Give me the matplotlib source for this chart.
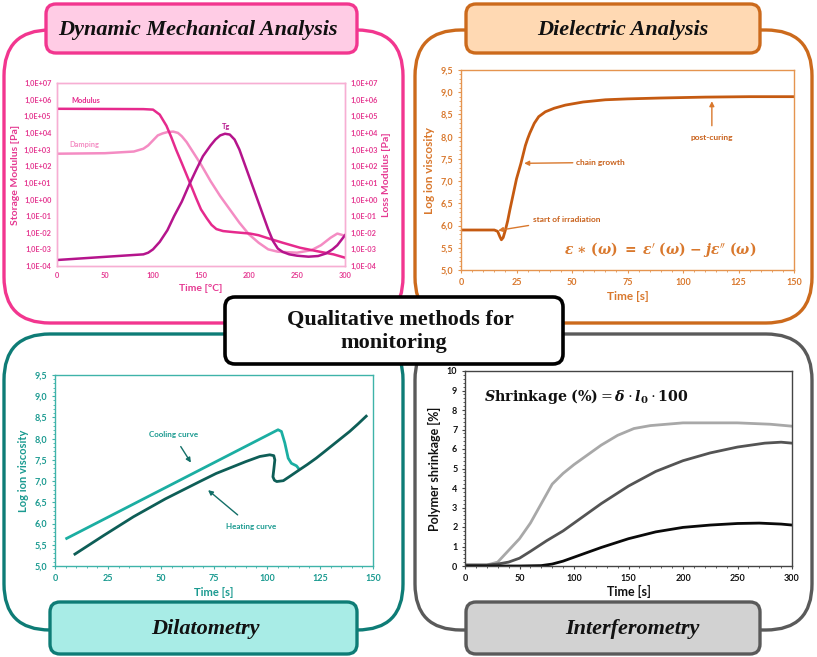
import matplotlib
matplotlib.use('Agg')
import math
import matplotlib.pyplot as plt
from matplotlib.patches import FancyBboxPatch
from matplotlib.ticker import MultipleLocator, FixedLocator, FuncFormatter, NullLocator

# ---------------- data ----------------
# Dynamic Mechanical Analysis (log10 of values)
dma_mod_x = [0, 50, 90, 100, 107, 114, 119, 124, 130, 135, 140, 145, 150, 156, 161, 166, 173, 185,
             201, 210, 218, 235, 253, 270, 288, 300]
dma_mod_log = [5.45, 5.44, 5.43, 5.40, 5.1, 4.43, 3.75, 3.0, 2.18, 1.48, 0.78, 0.07, -0.6, -1.13, -1.53,
               -1.78, -1.9, -1.97, -2.05, -2.15, -2.3, -2.6, -2.9, -3.1, -3.3, -3.5]
dma_damp_x = [0, 50, 80, 90, 95, 100, 105, 110, 115, 121, 126, 130, 135, 140, 150, 160, 170, 180, 190,
              200, 210, 220, 230, 250, 265, 275, 285, 292, 298, 300]
dma_damp_log = [2.75, 2.78, 2.88, 3.05, 3.25, 3.55, 3.85, 3.97, 4.05, 4.08, 4.0, 3.8, 3.45, 3.0, 2.1, 1.1,
                0.2, -0.6, -1.4, -2.1, -2.6, -3.0, -3.14, -3.2, -3.05, -2.75, -2.3, -2.05, -2.15, -2.2]
dma_tg_x = [0, 50, 90, 95, 100, 107, 115, 122, 130, 137, 145, 152, 160, 165, 170, 175, 180, 185, 190, 195,
            200, 205, 210, 215, 220, 225, 230, 235, 242, 250, 262, 272, 280, 287, 292, 296, 300]
dma_tg_log = [-3.64, -3.45, -3.3, -3.2, -3.0, -2.55, -1.85, -1.0, -0.13, 0.8, 1.78, 2.6, 3.25, 3.6, 3.85,
              3.95, 3.9, 3.6, 3.0, 2.2, 1.4, 0.6, -0.2, -1.0, -1.8, -2.5, -2.95, -3.15, -3.3, -3.38,
              -3.44, -3.4, -3.25, -3.0, -2.75, -2.45, -2.15]
dma_exp_ticks = [-4, -3, -2, -1, 0, 1, 2, 3, 4, 5, 6, 7]

# Dielectric Analysis
dea_t = [0, 5, 10, 15, 16.5, 17.5, 18.2, 19, 20, 21, 22, 23.5, 25, 27, 29, 30, 31, 33, 35, 38, 42, 47,
         55, 65, 75, 90, 110, 130, 150]
dea_v = [5.9, 5.9, 5.9, 5.9, 5.87, 5.75, 5.68, 5.73, 5.9, 6.1, 6.35, 6.7, 7.05, 7.4, 7.8, 7.95, 8.08,
         8.3, 8.45, 8.56, 8.64, 8.71, 8.78, 8.83, 8.85, 8.87, 8.89, 8.9, 8.9]

# Dilatometry
dil_cool_t = [5.5, 105.2, 106.8, 108.4, 110, 111.5, 113.9, 114.7]
dil_cool_v = [5.65, 8.21, 8.17, 7.9, 7.54, 7.42, 7.36, 7.31]
dil_heat_t = [9.4, 23, 37, 52, 68.3, 76, 84, 90, 96.6, 101.3, 103.2, 103.7, 103.2, 102.8, 103.5, 104.6,
              107.7, 111, 115.4, 119, 123.2, 127, 131, 135, 139, 143, 146.8]
dil_heat_v = [5.28, 5.72, 6.16, 6.58, 6.99, 7.18, 7.34, 7.46, 7.58, 7.62, 7.6, 7.5, 7.27, 7.1, 7.02, 6.99,
              7.01, 7.12, 7.27, 7.39, 7.54, 7.69, 7.85, 8.01, 8.17, 8.35, 8.53]

# Interferometry
int_t = [0, 20, 30, 40, 50, 60, 70, 80, 90, 100, 110, 125, 140, 155, 170, 200, 250, 280, 300]
int_light = [0.05, 0.05, 0.2, 0.8, 1.4, 2.2, 3.2, 4.2, 4.75, 5.2, 5.6, 6.2, 6.7, 7.05, 7.2, 7.34, 7.34,
             7.27, 7.17]
int_t2 = [0, 20, 30, 40, 50, 60, 75, 90, 100, 125, 150, 175, 200, 225, 250, 275, 290, 300]
int_mid = [0.05, 0.05, 0.1, 0.2, 0.4, 0.75, 1.3, 1.8, 2.2, 3.2, 4.1, 4.85, 5.4, 5.8, 6.1, 6.3, 6.35, 6.3]
int_t3 = [0, 50, 70, 80, 90, 100, 125, 150, 175, 200, 225, 250, 270, 290, 300]
int_dark = [0.0, 0.0, 0.02, 0.1, 0.25, 0.45, 0.95, 1.4, 1.75, 1.98, 2.1, 2.18, 2.2, 2.15, 2.1]

# ---------------- figure ----------------
W, H = 817, 657
fig = plt.figure(figsize=(W / 100, H / 100), dpi=100)
bg = fig.add_axes([0, 0, 1, 1])
bg.set_xlim(0, W)
bg.set_ylim(H, 0)
bg.axis('off')

SANS = ['Lato', 'DejaVu Sans']
SERIF = ['Liberation Serif', 'DejaVu Serif']


def px_axes(l, t, r, b):
    a = fig.add_axes([l / W, 1 - b / H, (r - l) / W, (b - t) / H])
    a.set_facecolor('none')
    return a


def frame(x0, y0, x1, y1, color, r=46, lw=2.4):
    bg.add_patch(FancyBboxPatch((x0, y0), x1 - x0, y1 - y0,
                                boxstyle=f"round,pad=0,rounding_size={r}",
                                fc='none', ec=color, lw=lw, zorder=1))


def title_box(x0, y0, x1, y1, fc, ec, text, tx, size):
    bg.add_patch(FancyBboxPatch((x0, y0), x1 - x0, y1 - y0,
                                boxstyle="round,pad=0,rounding_size=10",
                                fc=fc, ec=ec, lw=2.4, zorder=2))
    bg.text(tx, (y0 + y1) / 2 + 1, text, ha='center', va='center', family=SERIF,
            style='italic', weight='bold', fontsize=size, color='#111111', zorder=3)


# frames
frame(4, 30, 403, 323, '#F2368F')
frame(415, 30, 812, 323, '#CC6A1C')
frame(4, 334, 403, 630, '#0E7C76')
frame(415, 334, 812, 630, '#5A5A5A')

title_box(46, 4, 357, 53, '#FFCCE5', '#F2368F', 'Dynamic Mechanical Analysis', 198, 16)
title_box(466, 4, 760, 53, '#FFD9B3', '#CC6A1C', 'Dielectric Analysis', 623, 16)
title_box(50, 602, 357, 654, '#A8ECE6', '#0E7C76', 'Dilatometry', 205, 16)
title_box(466, 602, 760, 654, '#D2D2D2', '#5A5A5A', 'Interferometry', 632, 16)

# center box
bg.add_patch(FancyBboxPatch((225, 297), 338, 67, boxstyle="round,pad=0,rounding_size=10",
                            fc='white', ec='black', lw=2.6, zorder=4))
bg.text(400, 320, 'Qualitative methods for', ha='center', va='center', family=SERIF,
        weight='bold', fontsize=16, color='#111111', zorder=5)
bg.text(394, 343, 'monitoring', ha='center', va='center', family=SERIF,
        weight='bold', fontsize=16, color='#111111', zorder=5)


def style_ax(a, col, spine_col, tsize=6.5):
    for s in a.spines.values():
        s.set_color(spine_col)
        s.set_linewidth(1.0)
    a.tick_params(axis='both', which='both', colors=spine_col, labelcolor=col, labelsize=tsize)
    for lab in a.get_xticklabels() + a.get_yticklabels():
        lab.set_fontfamily(SANS)
        lab.set_fontweight('bold')


def fmt_comma(v, p):
    return f"{v:.1f}".replace('.', ',')


# ---------------- DMA ----------------
pink_txt = '#E53A92'
ax = px_axes(57, 83, 345, 266)
ax.set_yscale('log')
ax.set_xlim(0, 300)
ax.set_ylim(1e-4, 1e7)
ax.plot(dma_mod_x, [10 ** v for v in dma_mod_log], color='#E62A8D', lw=1.8, zorder=3)
ax.plot(dma_damp_x, [10 ** v for v in dma_damp_log], color='#F48CC3', lw=1.8, zorder=2)
ax2 = ax.twinx()
ax2.set_yscale('log')
ax2.set_ylim(1e-4, 1e7)
ax2.plot(dma_tg_x, [10 ** v for v in dma_tg_log], color='#B5148C', lw=1.8)
fmt = FuncFormatter(lambda v, p: "1,0E%+03d" % round(math.log10(v)))
for a in (ax, ax2):
    a.yaxis.set_major_locator(FixedLocator([10 ** k for k in dma_exp_ticks]))
    a.yaxis.set_minor_locator(NullLocator())
    a.yaxis.set_major_formatter(fmt)
ax.xaxis.set_major_locator(MultipleLocator(50))
style_ax(ax, pink_txt, '#F7AED3', 5.3)
style_ax(ax2, pink_txt, '#F7AED3', 5.3)
ax.tick_params(length=0, pad=4)
ax2.tick_params(length=0, pad=4)
ax.set_xlabel('Time [°C]', family=SANS, weight='bold', fontsize=7.5, color=pink_txt, labelpad=4)
ax.set_ylabel('Storage Modulus [Pa]', family=SANS, weight='bold', fontsize=7.5, color=pink_txt, labelpad=3)
ax2.set_ylabel('Loss Modulus [Pa]', family=SANS, weight='bold', fontsize=7.5, color=pink_txt, labelpad=3)
ax.text(15, 10 ** 5.96, 'Modulus', family=SANS, weight='bold', fontsize=5.3, color='#E62A8D', va='center')
ax.text(13, 10 ** 3.3, 'Damping', family=SANS, weight='bold', fontsize=5.3, color='#F48CC3', va='center')
ax2.text(176, 10 ** 4.4, 'Tg', family=SANS, weight='bold', fontsize=5.3, color='#B5148C', va='center', ha='center')

# ---------------- Dielectric ----------------
orange = '#C8601A'
orange_t = '#D9782D'
bx = px_axes(461, 70, 794, 270)
bx.set_xlim(0, 150)
bx.set_ylim(5.0, 9.5)
bx.plot(dea_t, dea_v, color='#C55A11', lw=2.0)
bx.xaxis.set_major_locator(MultipleLocator(25))
bx.xaxis.set_minor_locator(MultipleLocator(5))
bx.yaxis.set_major_locator(MultipleLocator(0.5))
bx.yaxis.set_minor_locator(MultipleLocator(0.1))
bx.yaxis.set_major_formatter(FuncFormatter(fmt_comma))
style_ax(bx, orange_t, '#E5944F', 6.5)
bx.tick_params(which='major', length=2.5, direction='out', pad=3)
bx.tick_params(which='minor', length=1.5, direction='out')
bx.set_xlabel('Time [s]', family=SANS, weight='bold', fontsize=8.5, color=orange_t, labelpad=3)
bx.set_ylabel('Log ion viscosity', family=SANS, weight='bold', fontsize=8.5, color=orange_t, labelpad=4)
akw = dict(arrowstyle='-|>', color='#D9782D', lw=1.0, mutation_scale=7)
bx.annotate('post-curing', xy=(113, 8.86), xytext=(113, 7.98), ha='center', va='center',
            family=SANS, weight='bold', fontsize=6, color=orange,
            arrowprops=dict(akw, shrinkA=4))
bx.annotate('chain growth', xy=(27.2, 7.4), xytext=(51.6, 7.42), ha='left', va='center',
            family=SANS, weight='bold', fontsize=6, color=orange,
            arrowprops=dict(akw, shrinkA=0))
bx.annotate('start of irradiation', xy=(15.5, 5.88), xytext=(32.3, 6.14), ha='left', va='center',
            family=SANS, weight='bold', fontsize=6, color=orange,
            arrowprops=dict(akw, shrinkA=1))
bx.text(89.7, 5.47,
        r'$\mathbfit{\varepsilon}\ \mathbf{\ast}\ \mathbf{(}\mathbfit{\omega}\mathbf{)}\ \mathbf{=}\ '
        r'\mathbfit{\varepsilon}^{\prime}\ \mathbf{(}\mathbfit{\omega}\mathbf{)}\ \mathbf{-}\ '
        r'\mathbfit{j\varepsilon}^{\prime\prime}\ \mathbf{(}\mathbfit{\omega}\mathbf{)}$',
        ha='center', va='center', math_fontfamily='dejavuserif', fontsize=10, color='#D9782D')

# ---------------- Dilatometry ----------------
teal_t = '#1A9A90'
cx = px_axes(55, 375, 373, 566)
cx.set_xlim(0, 150)
cx.set_ylim(5.0, 9.5)
cx.plot(dil_cool_t, dil_cool_v, color='#1BAEA2', lw=2.0)
cx.plot(dil_heat_t, dil_heat_v, color='#0E5E57', lw=2.0)
cx.xaxis.set_major_locator(MultipleLocator(25))
cx.xaxis.set_minor_locator(MultipleLocator(5))
cx.yaxis.set_major_locator(MultipleLocator(0.5))
cx.yaxis.set_minor_locator(MultipleLocator(0.1))
cx.yaxis.set_major_formatter(FuncFormatter(fmt_comma))
style_ax(cx, teal_t, '#3FB3A9', 6.5)
cx.tick_params(which='major', length=2.5, direction='out', pad=3)
cx.tick_params(which='minor', length=1.5, direction='out')
cx.set_xlabel('Time [s]', family=SANS, weight='bold', fontsize=8, color=teal_t, labelpad=3)
cx.set_ylabel('Log ion viscosity', family=SANS, weight='bold', fontsize=8, color=teal_t, labelpad=4)
tkw = dict(arrowstyle='-|>', color='#136F68', lw=1.0, mutation_scale=7)
cx.annotate('Cooling curve', xy=(64.8, 7.38), xytext=(55.7, 8.1), ha='center', va='center',
            family=SANS, weight='bold', fontsize=5.8, color=teal_t,
            arrowprops=dict(tkw, shrinkA=5))
cx.annotate('Heating curve', xy=(71.2, 6.83), xytext=(92.7, 5.93), ha='center', va='center',
            family=SANS, weight='bold', fontsize=5.8, color=teal_t,
            arrowprops=dict(tkw, shrinkA=6))

# ---------------- Interferometry ----------------
dx = px_axes(465, 371, 792, 566)
dx.set_xlim(0, 300)
dx.set_ylim(0, 10)
dx.plot(int_t, int_light, color='#A8A8A8', lw=2.0)
dx.plot(int_t2, int_mid, color='#545454', lw=2.0)
dx.plot(int_t3, int_dark, color='#0A0A0A', lw=2.0)
dx.xaxis.set_major_locator(MultipleLocator(50))
dx.xaxis.set_minor_locator(MultipleLocator(10))
dx.yaxis.set_major_locator(MultipleLocator(1))
dx.yaxis.set_minor_locator(MultipleLocator(0.2))
style_ax(dx, '#111111', '#444444', 6.5)
dx.tick_params(which='major', length=2.5, direction='out', pad=3)
dx.tick_params(which='minor', length=1.5, direction='out')
dx.set_xlabel('Time [s]', family=SANS, weight='bold', fontsize=9, color='#111111', labelpad=2)
dx.set_ylabel('Polymer shrinkage [%]', family=SANS, weight='bold', fontsize=9, color='#111111', labelpad=4)
dx.text(17.4, 8.67,
        r'$\mathbfit{S}\mathbf{hrinkage}\ \mathbf{(\%)} = \mathbfit{\delta}\cdot\mathbfit{l}_{\mathbf{0}}\cdot\mathbf{100}$',
        ha='left', va='center', math_fontfamily='dejavuserif', fontsize=10.3, color='#111111')

fig.savefig('out.png', dpi=100)
